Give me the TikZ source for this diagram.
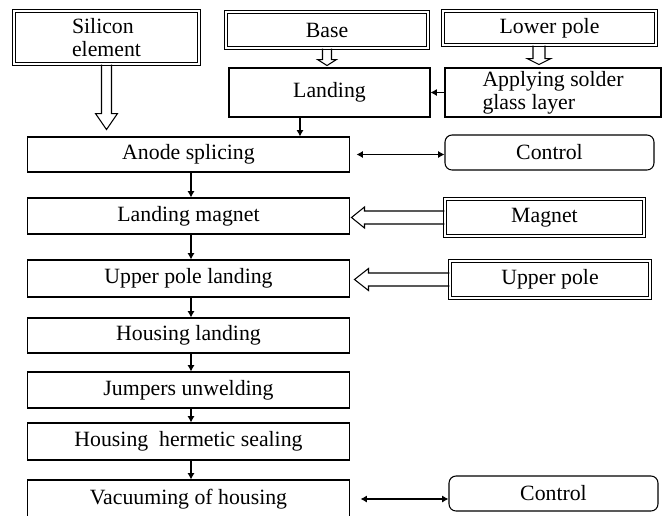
\documentclass[tikz,border=0pt]{standalone}
\usepackage{fontspec}
\setmainfont{Liberation Serif}
\usetikzlibrary{calc,arrows.meta}
\tikzset{
  box/.style={draw, line width=0.6pt, inner sep=1pt},
  dbox/.style={box, double, double distance=1.1pt,
    preaction={draw, line width=2.8pt}},
  rbox/.style={box, rounded corners=4pt},
  hollow/.style={draw, line width=0.6pt, line join=miter},
}
\begin{document}
\begin{tikzpicture}[x=0.02cm, y=-0.02cm, >={Latex[length=3.6pt,width=4pt]}, line width=0.6pt,
    every node/.style={font=\fontsize{12.4}{13.2}\selectfont}]
    \useasboundingbox (0,0) rectangle (666,515);
    % left column
    \node [dbox, minimum width=3.7cm, minimum height=1.06cm, align=left] (sil) at (106.5,37.5) {Silicon\\element};
    \node [box, minimum width=6.46cm, minimum height=0.7cm] (anode) at (188.5,154.5) {Anode splicing};
    \node [box, minimum width=6.46cm, minimum height=0.72cm] (lmag) at (188.5,216) {Landing magnet};
    \node [box, minimum width=6.46cm, minimum height=0.74cm] (upl) at (188.5,278.5) {Upper pole landing};
    \node [box, minimum width=6.46cm, minimum height=0.7cm] (hland) at (188.5,335.5) {Housing landing};
    \node [box, minimum width=6.46cm, minimum height=0.72cm] (jump) at (188.5,390) {Jumpers unwelding};
    \node [box, minimum width=6.46cm, minimum height=0.74cm] (herm) at (188.5,441.5) {Housing~ hermetic sealing};
    \node [box, minimum width=6.46cm, minimum height=0.76cm] (vac) at (188.5,499) {Vacuuming of housing};
    % top
    \node [dbox, minimum width=4.04cm, minimum height=0.72cm] (base) at (327,30) {Base};
    \node [dbox, minimum width=4.26cm, minimum height=0.68cm] (lower) at (549.5,28) {Lower pole};
    \node [box, minimum width=4.02cm, minimum height=0.98cm] (land) at (329.5,92.5) {Landing};
    \node [box, minimum width=4.32cm, minimum height=0.98cm, align=left] (apply) at (553,92.5) {Applying solder\\glass layer};
    % right column
    \node [rbox, minimum width=4.18cm, minimum height=0.7cm] (ctrl1) at (549.5,152.5) {Control};
    \node [dbox, minimum width=3.98cm, minimum height=0.74cm] (magnet) at (544.5,217.5) {Magnet};
    \node [dbox, minimum width=4.0cm, minimum height=0.74cm] (upper) at (550,279.5) {Upper pole};
    \node [rbox, minimum width=4.18cm, minimum height=0.7cm] (ctrl2) at (553.5,493.5) {Control};

    \coordinate (lx) at (300,0);
    \coordinate (cx) at (191,0);
    \draw [->] (land.south -| lx) -- (anode.north -| lx);
    \draw [->] (apply.west) -- (land.east);
    \draw [->] (anode.south -| cx) -- (lmag.north -| cx);
    \draw [->] (lmag.south -| cx) -- (upl.north -| cx);
    \draw [->] (upl.south -| cx) -- (hland.north -| cx);
    \draw [->] (hland.south -| cx) -- (jump.north -| cx);
    \draw [->] (jump.south -| cx) -- (herm.north -| cx);
    \draw [->] (herm.south -| cx) -- (vac.north -| cx);
    \draw [<->, shorten <=0.12cm] (anode.east) -- (anode.east -| ctrl1.west);
    \draw [<->, shorten <=0.2cm] (vac.east) -- (vac.east -| ctrl2.west);

    % hollow arrows
    \draw [hollow] ($(sil.south)+(-5,0)$) -- ++(0,49) -- ++(-6,0) -- ++(11,16) -- ++(11,-16) -- ++(-6,0) -- ++(0,-49);
    \draw [hollow] ($(base.south)+(-4.5,0)$) -- ++(0,11) -- ++(-5,0) -- ++(9.5,6) -- ++(9.5,-6) -- ++(-5,0) -- ++(0,-11);
    \draw [hollow] ($(lower.south)+(-16.5,0)$) -- ++(0,13) -- ++(-6,0) -- ++(12,6) -- ++(12,-6) -- ++(-6,0) -- ++(0,-13);
    \draw [hollow] ($(magnet.west)+(0,-6.5)$) -- ++(-80,0) -- ++(0,-4) -- ++(-13,10.5) -- ++(13,10.5) -- ++(0,-4) -- ++(80,0);
    \draw [hollow] ($(upper.west)+(0,-6.5)$) -- ++(-81,0) -- ++(0,-4.5) -- ++(-14,11) -- ++(14,11) -- ++(0,-4.5) -- ++(81,0);
\end{tikzpicture}
\end{document}
